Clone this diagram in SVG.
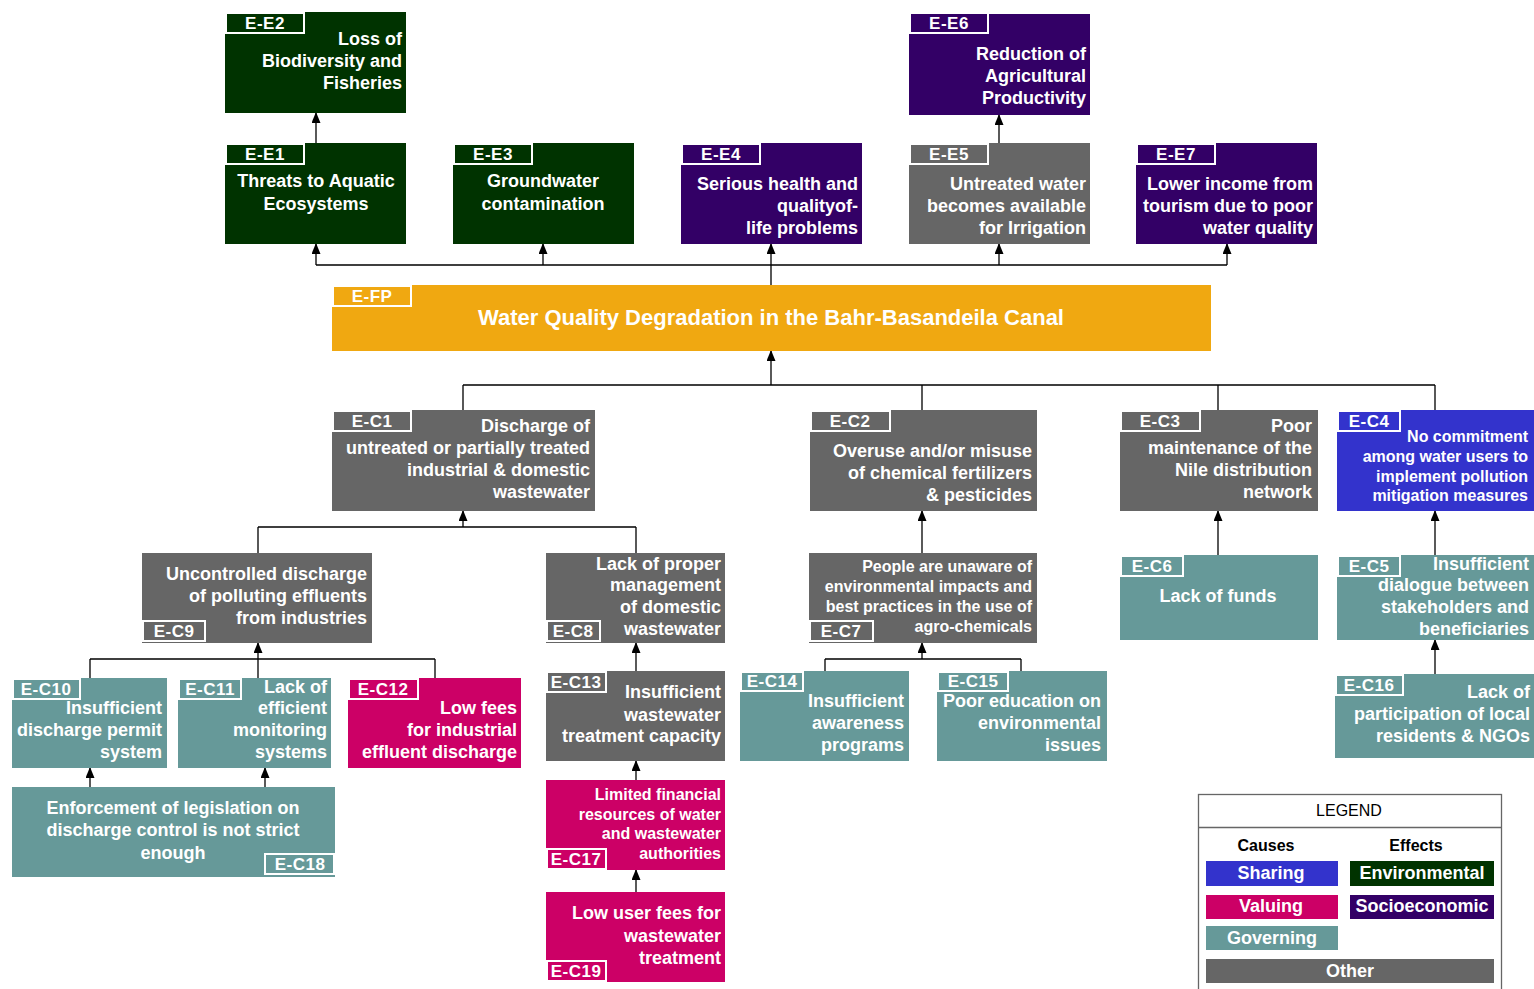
<svg xmlns="http://www.w3.org/2000/svg" width="1534" height="989" viewBox="0 0 1534 989">
<style>
text{font-family:"Liberation Sans",Arial,sans-serif;font-weight:bold;fill:#fff}
.t{font-size:18px}
.s{font-size:16px}
.tag{font-size:17px;text-anchor:middle;letter-spacing:0.5px}
.r{text-anchor:end}
.m{text-anchor:middle}
.env{fill:#003300}.soc{fill:#330066}.oth{fill:#666666}.fp{fill:#f0a811}.gov{fill:#669999}.val{fill:#cc0066}.sha{fill:#3333cc}
.tb{stroke:#fff;stroke-width:2}
.c{fill:none;stroke:#000;stroke-width:1.3}
.a{marker-end:url(#arr)}
</style>
<defs>
<marker id="arr" markerUnits="userSpaceOnUse" markerWidth="11" markerHeight="9" refX="10" refY="4.5" orient="auto">
<path d="M0,0 L11,4.5 L0,9 z" fill="#000"/>
</marker>
</defs>
<rect width="1534" height="989" fill="#fff"/>
<g id="connectors">
<path class="c" d="M771,285 V265 M316,265 H1227"/>
<path class="c a" d="M316,265 V244"/>
<path class="c a" d="M543,265 V244"/>
<path class="c a" d="M771,265 V244"/>
<path class="c a" d="M999,265 V244"/>
<path class="c a" d="M1227,265 V244"/>
<path class="c a" d="M316,143 V113"/>
<path class="c a" d="M999,143 V115"/>
<path class="c a" d="M771,385 V351"/>
<path class="c" d="M463,385 H1435 M463,385 V410 M922,385 V410 M1218,385 V410 M1435,385 V410"/>
<path class="c a" d="M463,527 V511"/>
<path class="c" d="M258,527 H636 M258,527 V553 M636,527 V553"/>
<path class="c a" d="M636,671 V643"/>
<path class="c a" d="M636,780 V761"/>
<path class="c a" d="M636,892 V870"/>
<path class="c a" d="M258,659 V643"/>
<path class="c" d="M90,659 H435 M90,659 V678 M258,659 V678 M435,659 V678"/>
<path class="c a" d="M90,787 V768"/>
<path class="c a" d="M265,787 V768"/>
<path class="c a" d="M922,553 V511"/>
<path class="c a" d="M922,659 V643"/>
<path class="c" d="M825,659 H1021 M825,659 V671 M1021,659 V671"/>
<path class="c a" d="M1218,555 V511"/>
<path class="c a" d="M1435,555 V511"/>
<path class="c a" d="M1435,674 V640"/>
</g>
<g id="E-E2">
<rect class="env" x="225" y="12" width="181" height="101"/>
<rect class="env tb" x="226" y="13" width="78" height="20"/>
<text class="tag" x="265" y="29">E-E2</text>
<text class="t r" x="402" y="45">Loss of</text>
<text class="t r" x="402" y="67">Biodiversity and</text>
<text class="t r" x="402" y="89">Fisheries</text>
</g>
<g id="E-E1">
<rect class="env" x="225" y="143" width="181" height="101"/>
<rect class="env tb" x="226" y="144" width="78" height="20"/>
<text class="tag" x="265" y="160">E-E1</text>
<text class="t m" x="316" y="187">Threats to Aquatic</text>
<text class="t m" x="316" y="210">Ecosystems</text>
</g>
<g id="E-E3">
<rect class="env" x="453" y="143" width="181" height="101"/>
<rect class="env tb" x="454" y="144" width="78" height="20"/>
<text class="tag" x="493" y="160">E-E3</text>
<text class="t m" x="543" y="187">Groundwater</text>
<text class="t m" x="543" y="210">contamination</text>
</g>
<g id="E-E4">
<rect class="soc" x="681" y="143" width="181" height="101"/>
<rect class="soc tb" x="682" y="144" width="78" height="20"/>
<text class="tag" x="721" y="160">E-E4</text>
<text class="t r" x="858" y="190">Serious health and</text>
<text class="t r" x="858" y="212">qualityof-</text>
<text class="t r" x="858" y="234">life problems</text>
</g>
<g id="E-E5">
<rect class="oth" x="909" y="143" width="181" height="101"/>
<rect class="oth tb" x="910" y="144" width="78" height="20"/>
<text class="tag" x="949" y="160">E-E5</text>
<text class="t r" x="1086" y="190">Untreated water</text>
<text class="t r" x="1086" y="212">becomes available</text>
<text class="t r" x="1086" y="234">for Irrigation</text>
</g>
<g id="E-E6">
<rect class="soc" x="909" y="14" width="181" height="101"/>
<rect class="soc tb" x="910" y="13" width="78" height="20"/>
<text class="tag" x="949" y="29">E-E6</text>
<text class="t r" x="1086" y="60">Reduction of</text>
<text class="t r" x="1086" y="82">Agricultural</text>
<text class="t r" x="1086" y="104">Productivity</text>
</g>
<g id="E-E7">
<rect class="soc" x="1136" y="143" width="181" height="101"/>
<rect class="soc tb" x="1137" y="144" width="78" height="20"/>
<text class="tag" x="1176" y="160">E-E7</text>
<text class="t r" x="1313" y="190">Lower income from</text>
<text class="t r" x="1313" y="212">tourism due to poor</text>
<text class="t r" x="1313" y="234">water quality</text>
</g>
<g id="E-FP">
<rect class="fp" x="332" y="285" width="879" height="66"/>
<rect class="fp tb" x="333" y="286" width="78" height="20"/>
<text class="tag" x="372" y="302">E-FP</text>
<text class="m" style="font-size:22px" x="771" y="325">Water Quality Degradation in the Bahr-Basandeila Canal</text>
</g>
<g id="E-C1">
<rect class="oth" x="332" y="410" width="263" height="101"/>
<rect class="oth tb" x="333" y="411" width="78" height="20"/>
<text class="tag" x="372" y="427">E-C1</text>
<text class="t r" x="590" y="432">Discharge of</text>
<text class="t r" x="590" y="454">untreated or partially treated</text>
<text class="t r" x="590" y="476">industrial &amp; domestic</text>
<text class="t r" x="590" y="498">wastewater</text>
</g>
<g id="E-C2">
<rect class="oth" x="810" y="410" width="227" height="101"/>
<rect class="oth tb" x="811" y="411" width="79" height="20"/>
<text class="tag" x="850" y="427">E-C2</text>
<text class="t r" x="1032" y="457">Overuse and/or misuse</text>
<text class="t r" x="1032" y="479">of chemical fertilizers</text>
<text class="t r" x="1032" y="501">&amp; pesticides</text>
</g>
<g id="E-C3">
<rect class="oth" x="1120" y="410" width="198" height="101"/>
<rect class="oth tb" x="1121" y="411" width="79" height="20"/>
<text class="tag" x="1160" y="427">E-C3</text>
<text class="t r" x="1312" y="432">Poor</text>
<text class="t r" x="1312" y="454">maintenance of the</text>
<text class="t r" x="1312" y="476">Nile distribution</text>
<text class="t r" x="1312" y="498">network</text>
</g>
<g id="E-C4">
<rect class="sha" x="1337" y="410" width="197" height="101"/>
<rect class="sha tb" x="1338" y="411" width="62" height="20"/>
<text class="tag" x="1369" y="427">E-C4</text>
<text class="s r" x="1528" y="442">No commitment</text>
<text class="s r" x="1528" y="462">among water users to</text>
<text class="s r" x="1528" y="482">implement pollution</text>
<text class="s r" x="1528" y="501">mitigation measures</text>
</g>
<g id="E-C9">
<rect class="oth" x="142" y="553" width="230" height="90"/>
<rect class="oth tb" x="143" y="621" width="62" height="20"/>
<text class="tag" x="174" y="637">E-C9</text>
<text class="t r" x="367" y="580">Uncontrolled discharge</text>
<text class="t r" x="367" y="602">of polluting effluents</text>
<text class="t r" x="367" y="624">from industries</text>
</g>
<g id="E-C8">
<rect class="oth" x="546" y="553" width="179" height="90"/>
<rect class="oth tb" x="547" y="621" width="53" height="20"/>
<text class="tag" x="573" y="637">E-C8</text>
<text class="t r" x="721" y="570">Lack of proper</text>
<text class="t r" x="721" y="591">management</text>
<text class="t r" x="721" y="613">of domestic</text>
<text class="t r" x="721" y="635">wastewater</text>
</g>
<g id="E-C13">
<rect class="oth" x="546" y="671" width="179" height="90"/>
<rect class="oth tb" x="547" y="672" width="59" height="20"/>
<text class="tag" x="576" y="688">E-C13</text>
<text class="t r" x="721" y="698">Insufficient</text>
<text class="t r" x="721" y="721">wastewater</text>
<text class="t r" x="721" y="742">treatment capacity</text>
</g>
<g id="E-C17">
<rect class="val" x="546" y="780" width="179" height="90"/>
<rect class="val tb" x="547" y="849" width="59" height="20"/>
<text class="tag" x="576" y="865">E-C17</text>
<text class="s r" x="721" y="800">Limited financial</text>
<text class="s r" x="721" y="820">resources of water</text>
<text class="s r" x="721" y="839">and wastewater</text>
<text class="s r" x="721" y="859">authorities</text>
</g>
<g id="E-C19">
<rect class="val" x="546" y="892" width="179" height="90"/>
<rect class="val tb" x="547" y="961" width="59" height="20"/>
<text class="tag" x="576" y="977">E-C19</text>
<text class="t r" x="721" y="919">Low user fees for</text>
<text class="t r" x="721" y="942">wastewater</text>
<text class="t r" x="721" y="964">treatment</text>
</g>
<g id="E-C10">
<rect class="gov" x="12" y="678" width="155" height="90"/>
<rect class="gov tb" x="13" y="679" width="67" height="20"/>
<text class="tag" x="46" y="695">E-C10</text>
<text class="t r" x="162" y="714">Insufficient</text>
<text class="t r" x="162" y="736">discharge permit</text>
<text class="t r" x="162" y="758">system</text>
</g>
<g id="E-C11">
<rect class="gov" x="178" y="678" width="153" height="90"/>
<rect class="gov tb" x="179" y="679" width="62" height="20"/>
<text class="tag" x="210" y="695">E-C11</text>
<text class="t r" x="327" y="693">Lack of</text>
<text class="t r" x="327" y="714">efficient</text>
<text class="t r" x="327" y="736">monitoring</text>
<text class="t r" x="327" y="758">systems</text>
</g>
<g id="E-C12">
<rect class="val" x="348" y="678" width="173" height="90"/>
<rect class="val tb" x="349" y="679" width="69" height="20"/>
<text class="tag" x="383" y="695">E-C12</text>
<text class="t r" x="517" y="714">Low fees</text>
<text class="t r" x="517" y="736">for industrial</text>
<text class="t r" x="517" y="758">effluent discharge</text>
</g>
<g id="E-C18">
<rect class="gov" x="12" y="787" width="323" height="90"/>
<rect class="gov tb" x="265" y="854" width="69" height="20"/>
<text class="tag" x="300" y="870">E-C18</text>
<text class="t m" x="173" y="814">Enforcement of legislation on</text>
<text class="t m" x="173" y="836">discharge control is not strict</text>
<text class="t m" x="173" y="859">enough</text>
</g>
<g id="E-C7">
<rect class="oth" x="809" y="553" width="228" height="90"/>
<rect class="oth tb" x="810" y="621" width="63" height="20"/>
<text class="tag" x="841" y="637">E-C7</text>
<text class="s r" x="1032" y="572">People are unaware of</text>
<text class="s r" x="1032" y="592">environmental impacts and</text>
<text class="s r" x="1032" y="612">best practices in the use of</text>
<text class="s r" x="1032" y="632">agro-chemicals</text>
</g>
<g id="E-C14">
<rect class="gov" x="740" y="671" width="169" height="90"/>
<rect class="gov tb" x="741" y="672" width="62" height="19"/>
<text class="tag" x="772" y="687">E-C14</text>
<text class="t r" x="904" y="707">Insufficient</text>
<text class="t r" x="904" y="729">awareness</text>
<text class="t r" x="904" y="751">programs</text>
</g>
<g id="E-C15">
<rect class="gov" x="937" y="671" width="170" height="90"/>
<rect class="gov tb" x="938" y="672" width="70" height="19"/>
<text class="tag" x="973" y="687">E-C15</text>
<text class="t r" x="1101" y="707">Poor education on</text>
<text class="t r" x="1101" y="729">environmental</text>
<text class="t r" x="1101" y="751">issues</text>
</g>
<g id="E-C6">
<rect class="gov" x="1120" y="555" width="198" height="85"/>
<rect class="gov tb" x="1121" y="556" width="62" height="20"/>
<text class="tag" x="1152" y="572">E-C6</text>
<text class="t m" x="1218" y="602">Lack of funds</text>
</g>
<g id="E-C5">
<rect class="gov" x="1337" y="555" width="197" height="85"/>
<rect class="gov tb" x="1338" y="556" width="62" height="20"/>
<text class="tag" x="1369" y="572">E-C5</text>
<text class="t r" x="1529" y="570">Insufficient</text>
<text class="t r" x="1529" y="591">dialogue between</text>
<text class="t r" x="1529" y="613">stakeholders and</text>
<text class="t r" x="1529" y="635">beneficiaries</text>
</g>
<g id="E-C16">
<rect class="gov" x="1335" y="674" width="199" height="84"/>
<rect class="gov tb" x="1336" y="675" width="67" height="20"/>
<text class="tag" x="1369" y="691">E-C16</text>
<text class="t r" x="1530" y="698">Lack of</text>
<text class="t r" x="1530" y="720">participation of local</text>
<text class="t r" x="1530" y="742">residents &amp; NGOs</text>
</g>
<g id="legend">
<rect x="1198.5" y="794.5" width="303" height="200" fill="#fff" stroke="#666" stroke-width="1.3"/>
<line x1="1198" y1="827.5" x2="1502" y2="827.5" stroke="#666" stroke-width="1.3"/>
<text x="1349" y="816" style="font-size:16px;font-weight:normal;fill:#000;text-anchor:middle">LEGEND</text>
<text x="1266" y="851" style="font-size:16px;fill:#000;text-anchor:middle">Causes</text>
<text x="1416" y="851" style="font-size:16px;fill:#000;text-anchor:middle">Effects</text>
<rect class="sha" x="1206" y="861" width="132" height="25"/>
<text class="t m" x="1271" y="879">Sharing</text>
<rect class="env" x="1350" y="861" width="144" height="25"/>
<text class="t m" x="1422" y="879">Environmental</text>
<rect class="val" x="1206" y="895" width="132" height="24"/>
<text class="t m" x="1271" y="912">Valuing</text>
<rect class="soc" x="1350" y="895" width="144" height="24"/>
<text class="t m" x="1422" y="912">Socioeconomic</text>
<rect class="gov" x="1206" y="926" width="132" height="24"/>
<text class="t m" x="1272" y="944">Governing</text>
<rect class="oth" x="1206" y="959" width="288" height="24"/>
<text class="t m" x="1350" y="977">Other</text>
</g>
</svg>
